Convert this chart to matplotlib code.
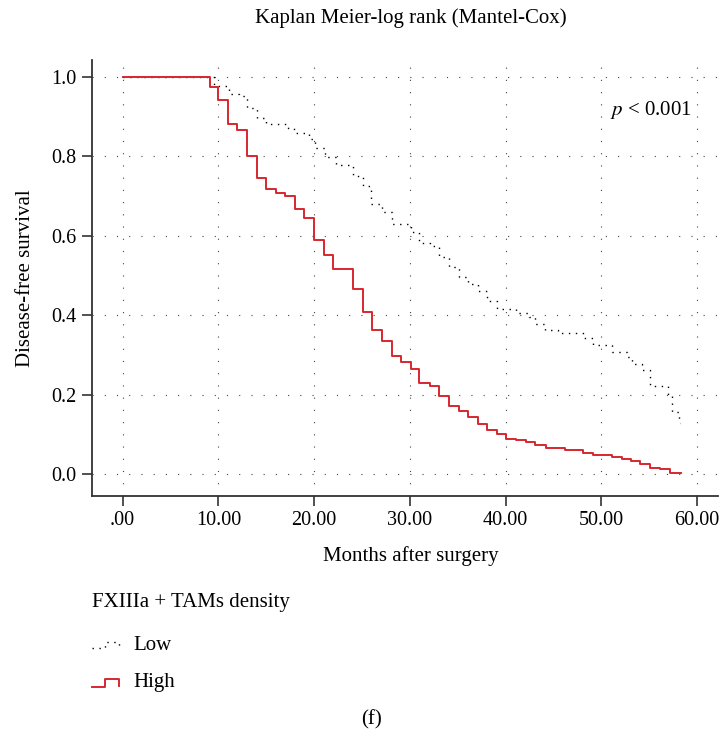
import matplotlib
matplotlib.use("Agg")
import matplotlib.pyplot as plt
from matplotlib.lines import Line2D

plt.rcParams['font.family'] = ['Liberation Serif', 'DejaVu Serif']
plt.rcParams['mathtext.fontset'] = 'stix'

# step curves (months, survival)
low_t = [0, 9.5, 11.1, 12.2, 13.0, 14.0, 15.0, 17.3, 17.9, 19.5, 20.1, 21.1, 22.3, 24.1, 25.1,
         26.0, 27.1, 28.1, 30.1, 31.0, 32.1, 33.1, 34.1, 35.1, 36.1, 37.1, 38.1, 39.1, 41.1,
         42.5, 43.1, 44.1, 45.5, 48.1, 49.1, 51.1, 52.7, 53.2, 54.3, 55.1, 57.0, 57.4, 58.1, 58.2]
low_s = [1.0, 0.977, 0.957, 0.952, 0.921, 0.896, 0.883, 0.872, 0.860, 0.845, 0.822, 0.799, 0.778, 0.751, 0.725,
         0.680, 0.659, 0.630, 0.610, 0.583, 0.574, 0.547, 0.522, 0.497, 0.479, 0.461, 0.436, 0.416, 0.405,
         0.395, 0.378, 0.364, 0.356, 0.342, 0.325, 0.308, 0.295, 0.277, 0.263, 0.222, 0.199, 0.157, 0.128, 0.128]

high_t = [0, 9.1, 10.0, 11.0, 12.0, 13.0, 14.0, 15.0, 16.0, 17.0, 18.0, 19.0, 20.0, 21.0, 22.0,
          24.1, 25.1, 26.1, 27.1, 28.1, 29.1, 30.1, 31.0, 32.1, 33.1, 34.1, 35.1, 36.1, 37.1, 38.1,
          39.1, 40.1, 41.1, 42.1, 43.1, 44.2, 46.2, 48.1, 49.1, 51.1, 52.2, 53.1, 54.1, 55.1, 56.1,
          57.2, 58.3]
high_s = [1.0, 0.976, 0.942, 0.883, 0.866, 0.800, 0.745, 0.719, 0.707, 0.700, 0.669, 0.644, 0.589, 0.552, 0.516,
          0.467, 0.409, 0.364, 0.336, 0.297, 0.283, 0.264, 0.230, 0.222, 0.197, 0.172, 0.159, 0.144, 0.127, 0.110,
          0.102, 0.089, 0.085, 0.081, 0.073, 0.066, 0.062, 0.053, 0.048, 0.043, 0.037, 0.032, 0.026, 0.016, 0.012,
          0.004, 0.004]

xticks = [0, 10, 20, 30, 40, 50, 60]
xlabels = ['.00', '10.00', '20.00', '30.00', '40.00', '50.00', '60.00']
yticks = [0.0, 0.2, 0.4, 0.6, 0.8, 1.0]
ylabels = ['0.0', '0.2', '0.4', '0.6', '0.8', '1.0']

red = '#d7262f'
W, H = 724, 733
FS = 15


def px(x, y):
    return x / W, 1 - y / H


fig = plt.figure(figsize=(W / 100, H / 100), dpi=100)
ax = fig.add_axes([92 / W, 1 - 496 / H, (718 - 92) / W, (496 - 60) / H])

ax.step(low_t, low_s, where='post', color='black', lw=1.0, linestyle=(0, (1, 4)))
ax.step(high_t, high_s, where='post', color=red, lw=1.4)

ax.set_xlim(-3.2, 62.2)
ax.set_ylim(-0.055, 1.043)
ax.set_xticks(xticks)
ax.set_xticklabels(xlabels)
ax.set_yticks(yticks)
ax.set_yticklabels(ylabels)
ax.grid(True, color='#444444', lw=0.8, linestyle=(0, (1, 10)))
for s in ['top', 'right']:
    ax.spines[s].set_visible(False)
for s in ['left', 'bottom']:
    ax.spines[s].set_linewidth(1.3)
    ax.spines[s].set_color('#333333')
ax.tick_params(direction='out', length=7, width=1.2, labelsize=FS - 0.5, color='#333333', pad=4)

ax.set_xlabel('Months after surgery', fontsize=FS, labelpad=10)
ax.xaxis.set_label_coords((411 - 92) / (718 - 92), -0.115)
ax.set_ylabel('Disease-free survival', fontsize=FS, labelpad=12)
ax.text(50.9, 0.917, r'$\mathit{p}$ < 0.001', fontsize=FS, va='center', ha='left')

fig.text(*px(411, 18), 'Kaplan Meier-log rank (Mantel-Cox)', fontsize=FS, ha='center', va='center')

# legend drawn by hand
fig.text(*px(92, 603), 'FXIIIa + TAMs density', fontsize=FS, ha='left', va='center')
fig.text(*px(133, 645), 'Low', fontsize=FS, ha='left', va='center')
fig.text(*px(133, 682), 'High', fontsize=FS, ha='left', va='center')
lx = [92, 105, 105, 119, 119]
fig.add_artist(Line2D([px(x, 0)[0] for x in lx], [px(0, y)[1] for y in [648, 648, 642, 642, 647]],
                      color='black', lw=1.0, linestyle=(0, (1, 4)), transform=fig.transFigure))
fig.add_artist(Line2D([px(x, 0)[0] for x in lx], [px(0, y)[1] for y in [687, 687, 679, 679, 686]],
                      color=red, lw=1.4, transform=fig.transFigure))

fig.text(*px(372, 720), '(f)', fontsize=FS, ha='center', va='center')

fig.savefig('out.png', dpi=100)
